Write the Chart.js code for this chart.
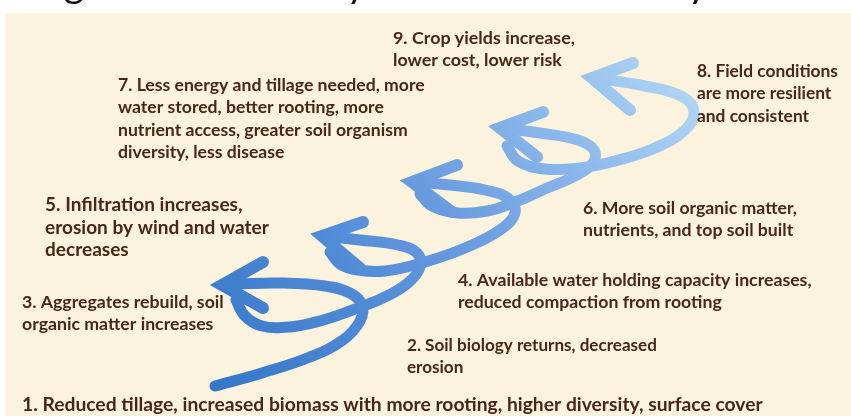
<!DOCTYPE html>
<html>
<head>
<meta charset="utf-8">
<script src="https://cdn.jsdelivr.net/npm/chart.js@4"></script>
<style>
  html, body { margin: 0; padding: 0; background: #fff; }
  #chart { display: block; }
</style>
</head>
<body>
<canvas id="chart" width="851" height="416"></canvas>
<script>
// Title, only its lower edge is inside the frame
const titleText = "Regenerative Soil Systems Build Healthy Farms";

// Spiral strokes, in diagram units (x to the right, y downward)
const path1 = [[215,386],[262,373],[310,357],[343,340],[360,321],[362,305],[350,293],[325,286],[280,283],[240,284],[223,285]];
const path2 = [[236,300],[245,316],[262,326],[290,327],[320,321],[350,311],[385,297],[408,283],[420,267],[417,253],[398,245],[360,240],[323,236]];
const path3 = [[330,252],[340,264],[358,270],[385,271],[425,262],[465,248],[500,230],[515,213],[508,198],[485,190],[450,185],[413,182]];
const path4 = [[420,194],[432,206],[458,213],[487,211],[515,202],[545,189],[575,176],[593,163],[594,150],[578,140],[540,133],[501,128]];
const path5 = [[507,146],[518,161],[545,169],[580,168],[615,161],[655,148],[685,130],[694,112],[683,97],[645,86],[593,78]];

// Arrow heads: tip and the two barb ends
const arrowTips  = [[222,285],[322,236],[412,182],[500,128],[592,78]];
const arrowUpper = [[263,262],[363,222],[457,165],[543,112],[633,63]];
const arrowLower = [[263,308],[360,268],[452,212],[537,157],[630,110]];

// Step captions
const stepLines = [
  ["1. Reduced tillage, increased biomass with more rooting, higher diversity, surface cover"],
  ["2. Soil biology returns, decreased", "erosion"],
  ["3. Aggregates rebuild, soil", "organic matter increases"],
  ["4. Available water holding capacity increases,", "reduced compaction from rooting"],
  ["5. Infiltration increases,", "erosion by wind and water", "decreases"],
  ["6. More soil organic matter,", "nutrients, and top soil built"],
  ["7. Less energy and tillage needed, more", "water stored, better rooting, more", "nutrient access, greater soil organism", "diversity, less disease"],
  ["8. Field conditions", "are more resilient", "and consistent"],
  ["9. Crop yields increase,", "lower cost, lower risk"]
];

// caption layout: left edge, right edge of the widest line, first line centre
const stepLeft  = [22, 407, 22, 458, 45, 583, 118, 697, 393];
const stepRight = [763, 657, 224, 812, 269, 797, 425, 838, 575];
const stepTop   = [405, 345, 302, 280, 205, 208, 85, 71, 38];

const toPts = p => p.map(([x, y]) => ({ x, y }));

let grad = null;
function strokeColor(context) {
  const chart = context.chart;
  if (!chart.chartArea) return '#5b93db';
  if (!grad) {
    const sx = chart.scales.x, sy = chart.scales.y;
    const a = path1[0], b = arrowUpper[arrowUpper.length - 1];
    grad = chart.ctx.createLinearGradient(sx.getPixelForValue(a[0]), sy.getPixelForValue(a[1]),
                                          sx.getPixelForValue(b[0] + 40), sy.getPixelForValue(b[1]));
    grad.addColorStop(0, '#3677c8');
    grad.addColorStop(0.3, '#4f8ad6');
    grad.addColorStop(0.55, '#6e9fe1');
    grad.addColorStop(0.78, '#8fbbec');
    grad.addColorStop(1, '#b0d5f5');
  }
  return grad;
}

const datasets = [];
[path1, path2, path3, path4, path5].forEach(p => {
  datasets.push({
    data: toPts(p), showLine: true, tension: 0.4, pointRadius: 0,
    borderWidth: 11, borderColor: strokeColor, borderCapStyle: 'round', fill: false
  });
});
arrowTips.forEach((t, i) => {
  datasets.push({
    data: toPts([arrowUpper[i], t, arrowLower[i]]), showLine: true, tension: 0, pointRadius: 0,
    borderWidth: 12, borderColor: strokeColor, borderCapStyle: 'round', borderJoinStyle: 'miter', fill: false
  });
});

const backdrop = {
  id: 'backdrop',
  beforeDraw(chart) {
    const { ctx, scales: { x, y } } = chart;
    ctx.save();
    ctx.fillStyle = '#ffffff';
    ctx.fillRect(0, 0, chart.width, chart.height);
    ctx.fillStyle = '#fbf3dd';
    const left = x.getPixelForValue(5), top = y.getPixelForValue(13);
    ctx.fillRect(left, top, chart.width - left, chart.height - top);
    // title: scale font so it spans the frame width
    ctx.font = '40px Lato';
    const w = ctx.measureText(titleText).width;
    ctx.font = (40 * 800 / w).toFixed(1) + 'px Lato';
    ctx.fillStyle = '#111111';
    ctx.textBaseline = 'alphabetic';
    ctx.fillText(titleText, x.getPixelForValue(20), y.getPixelForValue(-3));
    ctx.restore();
  }
};

const captions = {
  id: 'captions',
  afterDatasetsDraw(chart) {
    const { ctx, scales: { x, y } } = chart;
    ctx.save();
    ctx.fillStyle = '#4a2614';
    ctx.textBaseline = 'middle';
    stepLines.forEach((lines, i) => {
      // size each caption so its widest line spans the same width as in the picture
      ctx.font = 'bold 20px Lato';
      const widest = Math.max(...lines.map(l => ctx.measureText(l).width));
      const target = x.getPixelForValue(stepRight[i]) - x.getPixelForValue(stepLeft[i]);
      ctx.font = 'bold ' + (20 * target / widest).toFixed(2) + 'px Lato';
      lines.forEach((line, j) => {
        ctx.fillText(line, x.getPixelForValue(stepLeft[i]), y.getPixelForValue(stepTop[i]) + j * 22.5);
      });
    });
    ctx.restore();
  }
};

document.fonts.load('bold 17px Lato').then(() => document.fonts.load('40px Lato')).finally(() => {
  new Chart(document.getElementById('chart'), {
    type: 'scatter',
    data: { datasets },
    options: {
      responsive: false,
      devicePixelRatio: 1,
      animation: false,
      layout: { padding: 0 },
      plugins: { legend: { display: false }, tooltip: { enabled: false } },
      scales: {
        x: { type: 'linear', min: 0, max: 851, display: false },
        y: { type: 'linear', min: 0, max: 416, reverse: true, display: false }
      }
    },
    plugins: [backdrop, captions]
  });
});
</script>
</body>
</html>
